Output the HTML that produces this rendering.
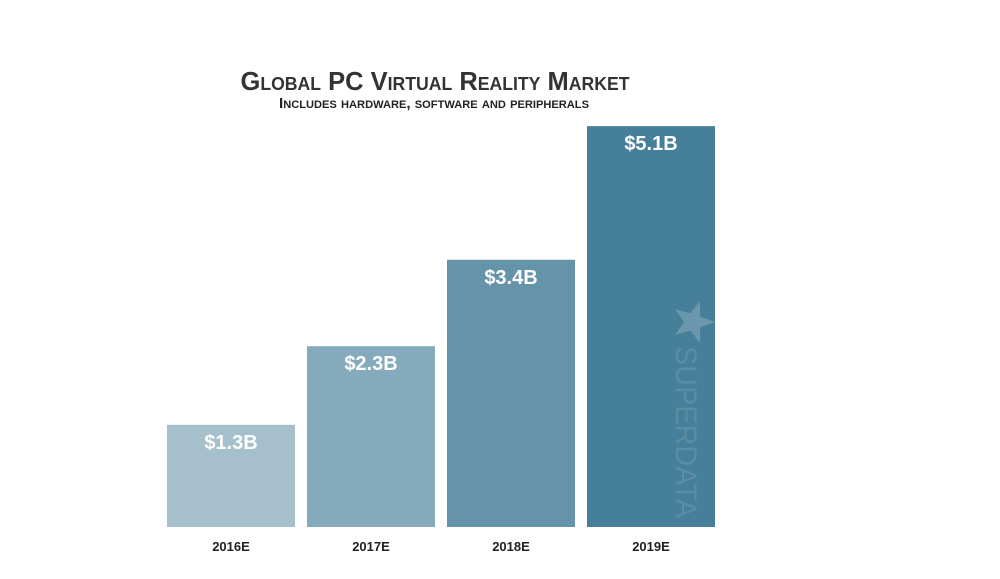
<!DOCTYPE html>
<html><head><meta charset="utf-8"><style>
body{margin:0;background:#fff;width:1000px;height:579px;overflow:hidden}
svg{display:block}
text{font-family:"Liberation Sans Narrow","Liberation Sans",sans-serif;font-weight:bold}
</style></head><body>
<svg id="chart" width="1000" height="579" viewBox="0 0 1000 579">
<text x="435" y="90" text-anchor="middle" font-size="26" fill="#333" textLength="389" lengthAdjust="spacingAndGlyphs" style="font-variant:small-caps">Global PC Virtual Reality Market</text>
<text x="434" y="108" text-anchor="middle" font-size="15" fill="#222" textLength="310" lengthAdjust="spacingAndGlyphs" style="font-variant:small-caps">Includes hardware, software and peripherals</text>
<g id="bars"></g>
</svg>
<script>
const categories=["2016E","2017E","2018E","2019E"];
const values=[1.3,2.3,3.4,5.1];
const valueLabels=["$1.3B","$2.3B","$3.4B","$5.1B"];
const colors=["#a5c0cc","#84aabb","#6593a9","#457f99"];
const baseY=527,pxPerUnit=78.6,x0=167,step=140,bw=128;
function xPos(i){return x0+i*step;}
function yPos(v){return baseY-v*pxPerUnit;}
const g=document.getElementById('bars');
const ns="http://www.w3.org/2000/svg";
categories.forEach((c,i)=>{
  const r=document.createElementNS(ns,'rect');
  
  
  r.setAttribute('x',xPos(i));r.setAttribute('y',yPos(values[i]));
  r.setAttribute('width',bw);r.setAttribute('height',baseY-yPos(values[i]));
  r.setAttribute('fill',colors[i]);g.appendChild(r);
  const t=document.createElementNS(ns,'text');
  
  
  t.setAttribute('x',xPos(i)+bw/2);t.setAttribute('y',yPos(values[i])+24);
  t.setAttribute('text-anchor','middle');t.setAttribute('font-size','20');t.setAttribute('fill','#fff');
  t.textContent=valueLabels[i];g.appendChild(t);
  const l=document.createElementNS(ns,'text');
  
  
  l.setAttribute('x',xPos(i)+bw/2);l.setAttribute('y',551);
  l.setAttribute('text-anchor','middle');l.setAttribute('font-size','13');l.setAttribute('fill','#222');
  l.textContent=c;g.appendChild(l);
});
// watermark
const star=document.createElementNS(ns,'polygon');


const cx=693,cy=322,R=22,r2=9;let pts=[];
for(let k=0;k<10;k++){const a=Math.PI/2*0+k*Math.PI/5;const rr=k%2?r2:R;pts.push((cx+rr*Math.cos(a)).toFixed(1)+','+(cy+rr*Math.sin(a)).toFixed(1));}
star.setAttribute('points',pts.join(' '));star.setAttribute('fill','#6a97ab');g.appendChild(star);
const wm=document.createElementNS(ns,'text');


wm.setAttribute('transform','translate(676,346) rotate(90)');
wm.setAttribute('font-size','30');wm.setAttribute('fill','#5a8ca2');
wm.setAttribute('style','font-family:"Liberation Sans",sans-serif;font-weight:normal');
wm.setAttribute('textLength','172');wm.setAttribute('lengthAdjust','spacingAndGlyphs');
wm.textContent='SUPERDATA';g.appendChild(wm);
</script>
</body></html>
